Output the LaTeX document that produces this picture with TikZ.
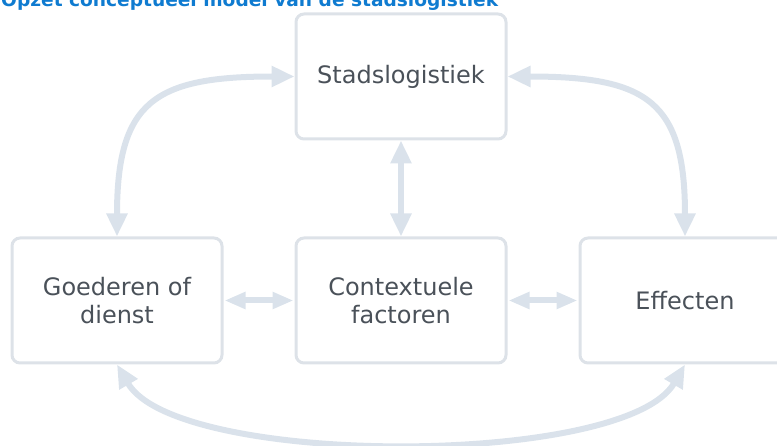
\documentclass[tikz,border=0pt]{standalone}
\usepackage{fontspec}
\setmainfont{DejaVu Sans}
\usetikzlibrary{arrows.meta}
\definecolor{arrowc}{HTML}{DAE2EB}
\definecolor{boxc}{HTML}{DDE2E8}
\definecolor{txtc}{HTML}{4A5159}
\definecolor{titlec}{HTML}{0F7BD0}
\tikzset{
  box/.style={draw=boxc, line width=3pt, rounded corners=8pt, fill=white,
    minimum width=210pt, minimum height=125pt, align=center, text=txtc,
    font=\fontsize{24}{28}\selectfont, inner sep=0pt},
  conn/.style={draw=arrowc, line width=6pt,
    {Triangle[length=23pt,width=20pt]}-{Triangle[length=23pt,width=20pt]}},
  shortconn/.style={draw=arrowc, line width=6pt,
    {Triangle[length=21pt,width=16pt]}-{Triangle[length=21pt,width=16pt]}},
}
\begin{document}
\begin{tikzpicture}[x=1pt,y=-1pt]
\useasboundingbox (0,0) rectangle (777,446);
\clip (0,0) rectangle (777,446);
\node[anchor=base west, inner sep=0pt, text=titlec, font=\fontsize{18.6}{22}\selectfont\bfseries] (title) at (1,6.5) {Opzet conceptueel model van de stadslogistiek};
\node[box] (stad) at (401,76.5) {Stadslogistiek};
\node[box] (goed) at (117,300.5) {Goederen of\\dienst};
\node[box] (ctx) at (401,300.5) {Contextuele\\factoren};
\node[box] (eff) at (685,300.5) {Effecten};
\draw[conn] (stad.south) -- (ctx.north);
\draw[shortconn] ([xshift=1pt]goed.east) -- ([xshift=-1pt]ctx.west);
\draw[shortconn] ([xshift=1pt]ctx.east) -- ([xshift=-1pt]eff.west);
\draw[conn] (goed.north) .. controls +(0,-135) and +(-140,0) .. (stad.west);
\draw[conn] (stad.east) .. controls +(140,0) and +(0,-135) .. (eff.north);
\draw[conn] (goed.south) .. controls +(60,103) and +(-60,103) .. (eff.south);
\end{tikzpicture}
\end{document}
